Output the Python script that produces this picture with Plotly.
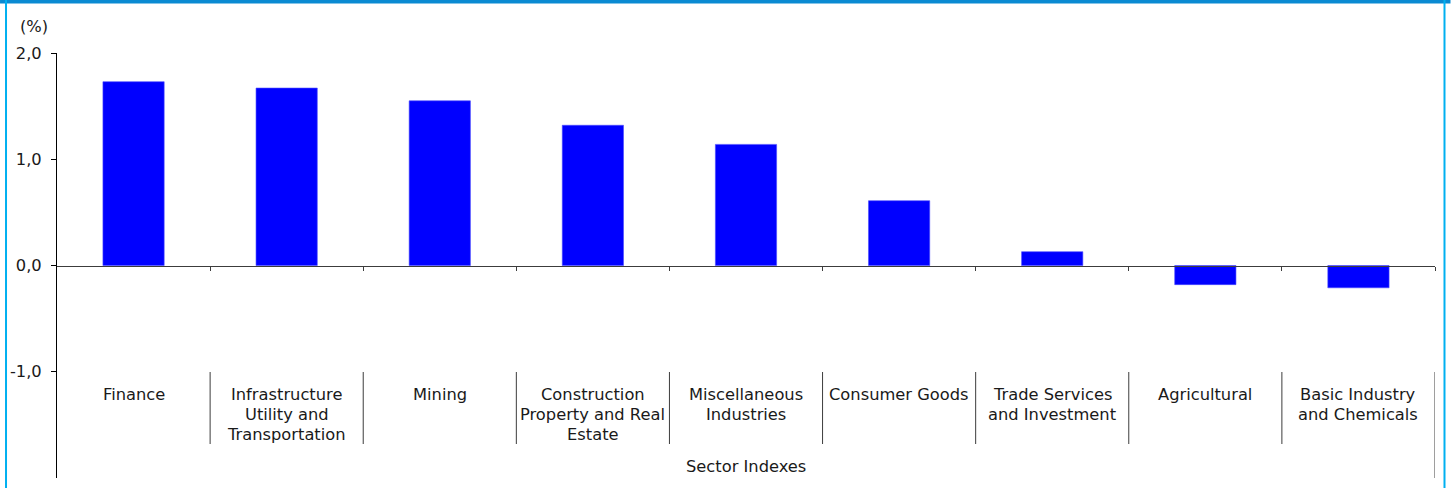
import plotly.graph_objects as go

# Daily change of sector indexes (%)
sectors = [
    "Finance",
    "Infrastructure<br>Utility and<br>Transportation",
    "Mining",
    "Construction<br>Property and Real<br>Estate",
    "Miscellaneous<br>Industries",
    "Consumer Goods",
    "Trade Services<br>and Investment",
    "Agricultural",
    "Basic Industry<br>and Chemicals",
]
change_pct = [1.73, 1.67, 1.55, 1.32, 1.14, 0.61, 0.13, -0.18, -0.21]

y_tick_vals = [-1, 0, 1, 2]
y_tick_text = ["-1,0", "0,0", "1,0", "2,0"]
group_title = "Sector Indexes"
unit_label = "(%)"

W, H = 1451, 488
ML, MR, MT, MB = 57, 15.5, 53, 10
FONT = "DejaVu Sans"
FS = 16.3

n = len(sectors)
xpos = list(range(n))

fig = go.Figure()
fig.add_trace(go.Bar(
    x=xpos, y=change_pct, width=0.4,
    marker=dict(color="#0000ff", line=dict(color="#4a4aff", width=0.6)),
    hoverinfo="skip", showlegend=False,
))

plot_h = H - MT - MB
plot_w = W - ML - MR


def px_to_y(py):
    # pixel row -> data value on the y axis (range -2..2)
    return 2 - (py - MT) / plot_h * 4


def px_to_paper_y(py):
    return (H - MB - py) / plot_h


def px_to_paper_x(px):
    return (px - ML) / plot_w


shapes = []
annotations = []

# two-level category labels
line_step = 20
for i, lab in enumerate(sectors):
    parts = lab.split("<br>")
    for k, part in enumerate(parts):
        annotations.append(dict(
            x=i, y=px_to_y(394 + k * line_step), xref="x", yref="y",
            text=part, showarrow=False, xanchor="center", yanchor="middle",
            font=dict(family=FONT, size=FS, color="#1a1a1a"),
        ))

# separators between category labels
for b in range(1, n):
    shapes.append(dict(
        type="line", xref="x", yref="y", x0=b - 0.5, x1=b - 0.5,
        y0=px_to_y(372), y1=px_to_y(444),
        line=dict(color="#3c3c3c", width=1),
    ))
# right edge of the label block
shapes.append(dict(
    type="line", xref="x", yref="y", x0=n - 0.5, x1=n - 0.5,
    y0=px_to_y(372), y1=-2,
    line=dict(color="#3c3c3c", width=1),
))

annotations.append(dict(
    x=(n - 1) / 2, y=px_to_y(466), xref="x", yref="y", text=group_title,
    showarrow=False, xanchor="center", yanchor="middle",
    font=dict(family=FONT, size=FS, color="#1a1a1a"),
))
annotations.append(dict(
    x=px_to_paper_x(34), y=px_to_paper_y(26), xref="paper", yref="paper",
    text=unit_label, showarrow=False, xanchor="center", yanchor="middle",
    font=dict(family=FONT, size=FS, color="#1a1a1a"),
))

# frame around the chart
shapes.append(dict(type="rect", xref="paper", yref="paper",
                   x0=px_to_paper_x(0), x1=px_to_paper_x(W),
                   y0=px_to_paper_y(3.5), y1=px_to_paper_y(0),
                   fillcolor="#0a8ad2", line=dict(width=0), layer="above"))
shapes.append(dict(type="rect", xref="paper", yref="paper",
                   x0=px_to_paper_x(5), x1=px_to_paper_x(7),
                   y0=px_to_paper_y(H), y1=px_to_paper_y(0),
                   fillcolor="#00b0f0", line=dict(width=0), layer="above"))
shapes.append(dict(type="rect", xref="paper", yref="paper",
                   x0=px_to_paper_x(1444), x1=px_to_paper_x(1446),
                   y0=px_to_paper_y(H), y1=px_to_paper_y(0),
                   fillcolor="#00b0f0", line=dict(width=0), layer="above"))

fig.update_layout(
    width=W, height=H,
    margin=dict(l=ML, r=MR, t=MT, b=MB, pad=0),
    paper_bgcolor="white", plot_bgcolor="white",
    font=dict(family=FONT, size=FS, color="#1a1a1a"),
    bargap=0.6,
    shapes=shapes, annotations=annotations,
    xaxis=dict(
        range=[-0.5, n - 0.5], anchor="free", position=0.5,
        showline=True, linecolor="#3c3c3c", linewidth=1,
        ticks="outside", ticklen=4, tickcolor="#3c3c3c", tickwidth=1,
        tickvals=[b + 0.5 for b in range(n)],
        showticklabels=False, showgrid=False, zeroline=False,
    ),
    yaxis=dict(
        range=[-2, 2], tickvals=y_tick_vals, ticktext=y_tick_text,
        showline=True, linecolor="#000000", linewidth=1,
        ticks="outside", ticklen=5, tickcolor="#000000",
        ticklabelstandoff=6,
        showgrid=False, zeroline=False,
        tickfont=dict(family=FONT, size=FS, color="#1a1a1a"),
    ),
)

fig.write_html("out.html")
